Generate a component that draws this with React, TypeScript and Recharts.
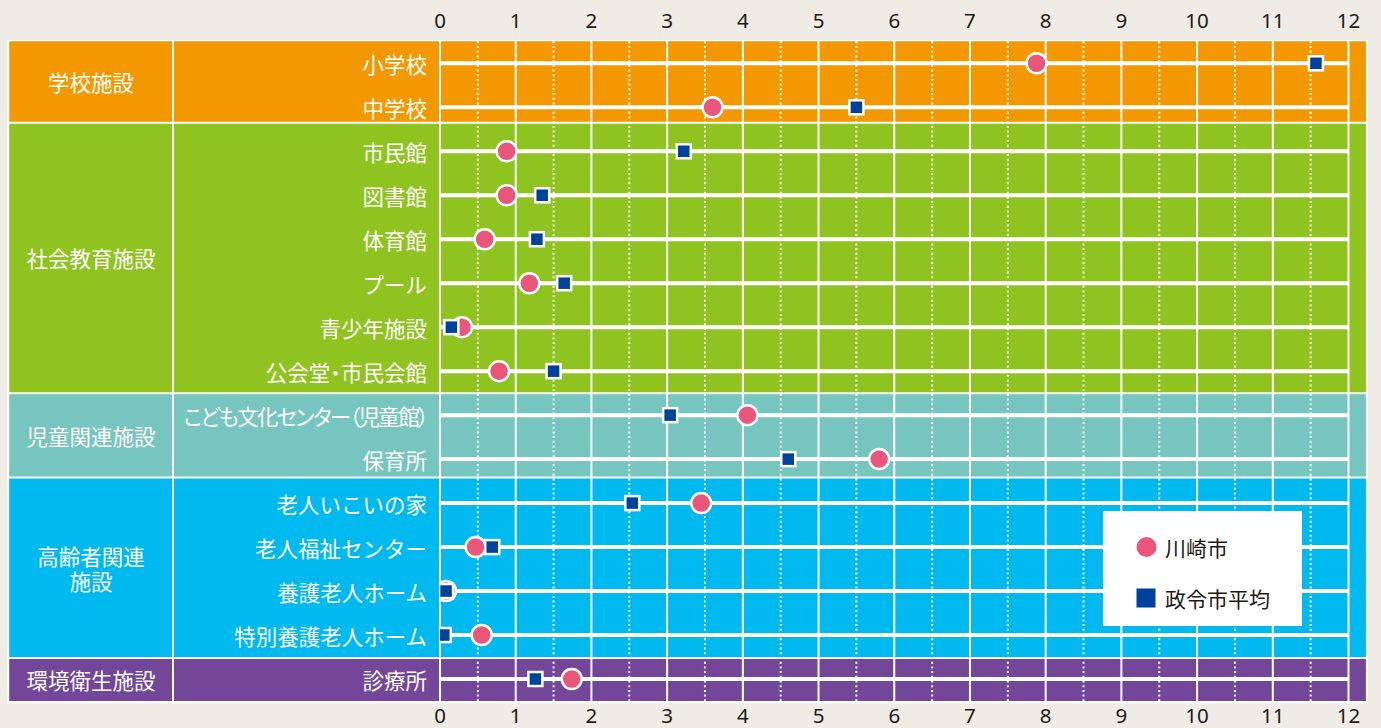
import React from 'react';
import { ScatterChart, Scatter, XAxis, YAxis, ReferenceArea, ReferenceLine, Legend } from 'recharts';

// ---- data ----
const facilities = [
  '小学校', '中学校', '市民館', '図書館', '体育館', 'プール', '青少年施設', '公会堂・市民会館',
  'こども文化センター（児童館）', '保育所', '老人いこいの家', '老人福祉センター', '養護老人ホーム',
  '特別養護老人ホーム', '診療所',
];
const kawasaki = [7.88, 3.6, 0.88, 0.88, 0.59, 1.18, 0.29, 0.78, 4.06, 5.8, 3.45, 0.47, 0.08, 0.55, 1.74];
const cityAverage = [11.57, 5.5, 3.22, 1.35, 1.28, 1.64, 0.15, 1.5, 3.04, 4.6, 2.54, 0.69, 0.08, 0.05, 1.26];
const groupNames = ['学校施設', '社会教育施設', '児童関連施設', '高齢者関連\n施設', '環境衛生施設'];
const groupBounds = [-0.5, 1.35, 7.5, 9.42, 13.52, 14.5];
const xTicks = [0, 1, 2, 3, 4, 5, 6, 7, 8, 9, 10, 11, 12];
const seriesNames = ['川崎市', '政令市平均'];

// ---- styles ----
const groupColors = ['#f39800', '#8fc31f', '#76c5be', '#00b9ef', '#744699'];
const PINK = '#e9557b';
const NAVY = '#00419a';
const BG = '#efece6';
const TEXT = '#231815';
const JP = "'Noto Sans CJK JP', 'Noto Sans', sans-serif";
const TABLE_X0 = -5.69;
const TABLE_X1 = 12.23;
const BORDER = { x0: -5.715, x1: 12.257, y0: -0.53, y1: 14.55 };
const GAP = 0.023;
const ITEM_AXIS = 'a_item';
const GROUP_AXIS = 'b_group';

const kawasakiPoints = kawasaki.map((x, i) => ({ x, y: i }));
const averagePoints = cityAverage.map((x, i) => ({ x, y: i }));
const rowIndex = facilities.map((_, i) => i);
const halfTicks = xTicks.slice(0, -1).map((t) => t + 0.5);
const groupCenters = groupBounds.slice(0, -1).map((b, k) => (b + groupBounds[k + 1]) / 2);

const ItemTick = (props: any) => {
  const { x, y, payload } = props;
  const label = facilities[Math.round(payload.value)];
  let style: any = undefined;
  if (label.includes('（')) style = { fontFeatureSettings: '"palt"', letterSpacing: -1.7 };
  else if (label.includes('・')) style = { fontFeatureSettings: '"palt"' };
  return (
    <text
      x={x}
      y={y}
      textAnchor="end"
      dominantBaseline="central"
      fill="#fff"
      fontSize={21.5}
      fontFamily={JP}
      style={style}
    >
      {label}
    </text>
  );
};

const GroupTick = (props: any) => {
  const { x, y, payload } = props;
  let idx = 0;
  groupCenters.forEach((c, k) => {
    if (Math.abs(c - payload.value) < Math.abs(groupCenters[idx] - payload.value)) idx = k;
  });
  const lines = groupNames[idx].split('\n');
  const lh = 25;
  return (
    <g>
      {lines.map((ln, i) => (
        <text
          key={i}
          x={x}
          y={y - ((lines.length - 1) * lh) / 2 + i * lh}
          textAnchor="middle"
          dominantBaseline="central"
          fill="#fff"
          fontSize={21.5}
          fontFamily={JP}
        >
          {ln}
        </text>
      ))}
    </g>
  );
};

const circleShape = (p: any) => (
  <circle cx={p.cx} cy={p.cy} r={10} fill={PINK} stroke="#fff" strokeWidth={2.5} />
);
const squareShape = (p: any) => (
  <rect x={p.cx - 7} y={p.cy - 7} width={14} height={14} fill={NAVY} stroke="#fff" strokeWidth={2.5} />
);

const LegendBox = (props: any) => {
  const payload = props.payload || [];
  return (
    <div style={{ width: '100%', height: '100%', background: '#fff' }}>
      <svg width={199} height={115} style={{ display: 'block' }}>
        {payload.map((entry: any, i: number) => {
          const cy = 36 + i * 51;
          return (
            <g key={i}>
              {entry.type === 'square' ? (
                <rect x={33.5} y={cy - 9.5} width={19} height={19} fill={entry.color} />
              ) : (
                <circle cx={43.5} cy={cy} r={10} fill={entry.color} />
              )}
              <text x={62} y={cy} dominantBaseline="central" fontSize={21} fontFamily={JP} fill={TEXT}>
                {entry.value}
              </text>
            </g>
          );
        })}
      </svg>
    </div>
  );
};

const numTick = { fill: TEXT, fontSize: 20.5, fontFamily: "'Noto Sans', sans-serif" };

export default function App() {
  return (
    <div style={{ position: 'absolute', left: 0, top: 0, width: 1381, height: 728, background: BG }}>
      <ScatterChart width={1381} height={728} margin={{ top: 0, right: 32.5, bottom: 0, left: 9 }}>
        <XAxis
          xAxisId="top"
          orientation="top"
          type="number"
          dataKey="x"
          domain={[0, 12]}
          ticks={xTicks}
          interval={0}
          allowDataOverflow
          height={41.3}
          axisLine={false}
          tickLine={false}
          tickSize={0}
          tickMargin={13}
          tick={numTick}
        />
        <XAxis
          xAxisId="bottom"
          orientation="bottom"
          type="number"
          dataKey="x"
          domain={[0, 12]}
          ticks={xTicks}
          interval={0}
          allowDataOverflow
          height={27}
          axisLine={false}
          tickLine={false}
          tickSize={0}
          tickMargin={7}
          tick={numTick}
        />
        <YAxis
          yAxisId={ITEM_AXIS}
          type="number"
          dataKey="y"
          domain={[-0.5, 14.5]}
          reversed
          allowDataOverflow
          ticks={rowIndex}
          interval={0}
          width={267}
          axisLine={{ stroke: '#fff', strokeWidth: 2 }}
          tickLine={false}
          tickSize={0}
          tickMargin={13}
          tick={<ItemTick />}
        />
        <YAxis
          yAxisId={GROUP_AXIS}
          type="number"
          dataKey="y"
          domain={[-0.5, 14.5]}
          reversed
          allowDataOverflow
          ticks={groupCenters}
          interval={0}
          width={164}
          axisLine={{ stroke: '#fff', strokeWidth: 2 }}
          tickLine={false}
          tickSize={0}
          tickMargin={82}
          tick={<GroupTick />}
        />

        <ReferenceArea
          xAxisId="top"
          yAxisId={ITEM_AXIS}
          x1={BORDER.x0}
          x2={BORDER.x1}
          y1={BORDER.y0}
          y2={BORDER.y1}
          fill="#fff"
          fillOpacity={1}
          stroke="none"
          ifOverflow="visible"
        />
        {groupColors.map((c, k) => (
          <ReferenceArea
            key={'band' + k}
            xAxisId="top"
            yAxisId={ITEM_AXIS}
            x1={TABLE_X0}
            x2={TABLE_X1}
            y1={groupBounds[k] + (k > 0 ? GAP : 0)}
            y2={groupBounds[k + 1] - (k < groupColors.length - 1 ? GAP : 0)}
            fill={c}
            fillOpacity={1}
            stroke="none"
            ifOverflow="visible"
          />
        ))}
        {halfTicks.map((t) => (
          <ReferenceLine
            key={'h' + t}
            xAxisId="top"
            yAxisId={ITEM_AXIS}
            x={t}
            stroke="#fff"
            strokeWidth={2}
            strokeDasharray="2 2.7"
          />
        ))}
        {xTicks.map((t) => (
          <ReferenceLine key={'v' + t} xAxisId="top" yAxisId={ITEM_AXIS} x={t} stroke="#fff" strokeWidth={2} />
        ))}
        {rowIndex.map((i) => (
          <ReferenceLine
            key={'r' + i}
            xAxisId="top"
            yAxisId={ITEM_AXIS}
            segment={[
              { x: 0, y: i },
              { x: 12, y: i },
            ]}
            stroke="#fff"
            strokeWidth={4}
          />
        ))}

        <Scatter
          name={seriesNames[0]}
          data={kawasakiPoints}
          xAxisId="top"
          yAxisId={ITEM_AXIS}
          fill={PINK}
          legendType="circle"
          shape={circleShape}
          isAnimationActive={false}
        />
        <Scatter
          name={seriesNames[1]}
          data={averagePoints}
          xAxisId="bottom"
          yAxisId={GROUP_AXIS}
          fill={NAVY}
          legendType="square"
          shape={squareShape}
          isAnimationActive={false}
        />
        <Legend
          layout="horizontal"
          align="center"
          verticalAlign="middle"
          content={<LegendBox />}
          wrapperStyle={{ left: 1103, top: 511, width: 199, height: 115 }}
        />
      </ScatterChart>
    </div>
  );
}
